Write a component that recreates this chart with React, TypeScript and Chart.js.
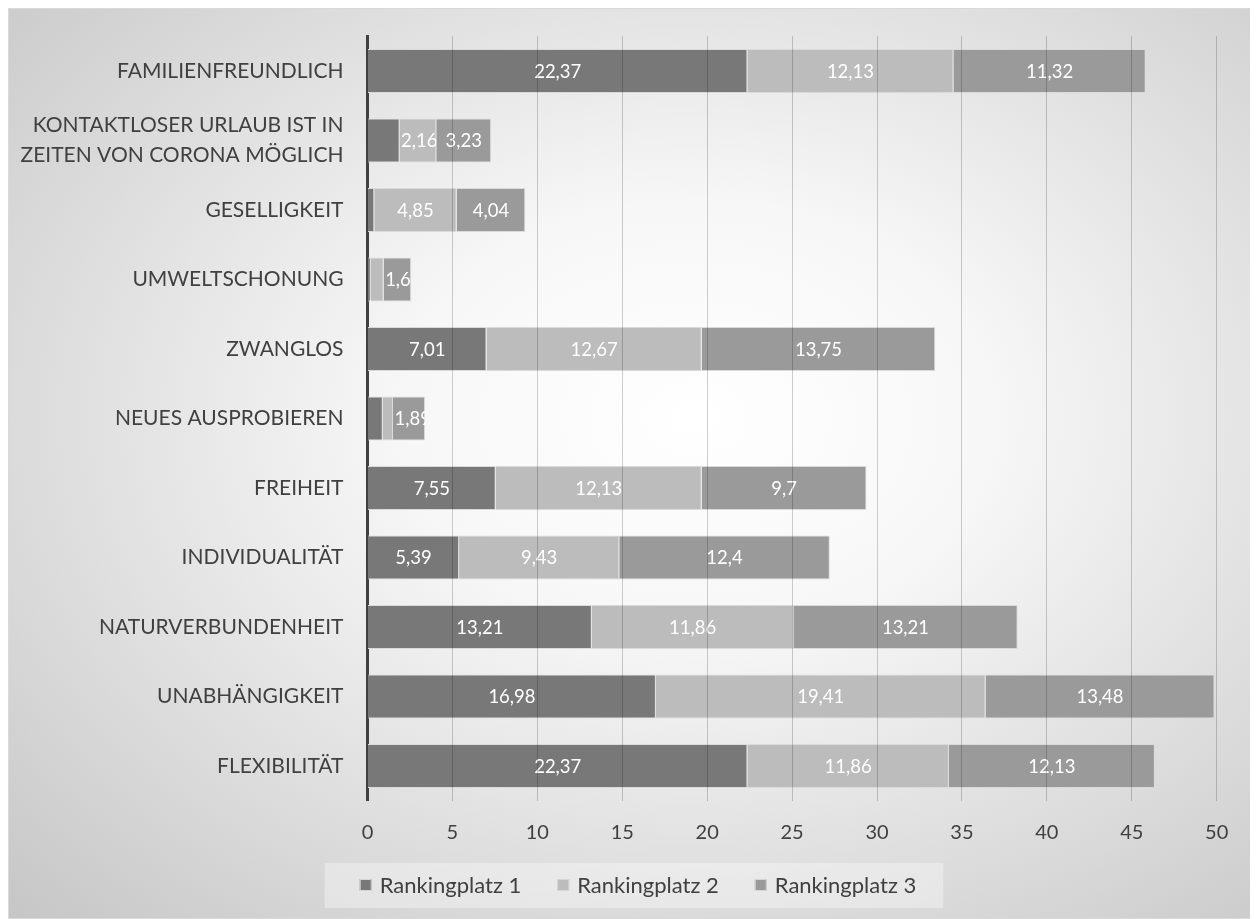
import React, { useEffect, useRef } from "react";
import { Chart, registerables } from "chart.js";

Chart.register(...registerables);

const categories: (string | string[])[] = [
  "FAMILIENFREUNDLICH",
  ["KONTAKTLOSER URLAUB IST IN", "ZEITEN VON CORONA MÖGLICH"],
  "GESELLIGKEIT",
  "UMWELTSCHONUNG",
  "ZWANGLOS",
  "NEUES AUSPROBIEREN",
  "FREIHEIT",
  "INDIVIDUALITÄT",
  "NATURVERBUNDENHEIT",
  "UNABHÄNGIGKEIT",
  "FLEXIBILITÄT",
];

const seriesNames = ["Rankingplatz 1", "Rankingplatz 2", "Rankingplatz 3"];
const seriesColors = ["#787878", "#bcbcbc", "#9a9a9a"];

const rank1 = [22.37, 1.89, 0.4, 0.2, 7.01, 0.9, 7.55, 5.39, 13.21, 16.98, 22.37];
const rank2 = [12.13, 2.16, 4.85, 0.75, 12.67, 0.6, 12.13, 9.43, 11.86, 19.41, 11.86];
const rank3 = [11.32, 3.23, 4.04, 1.62, 13.75, 1.89, 9.7, 12.4, 13.21, 13.48, 12.13];

const xTicks = [0, 5, 10, 15, 20, 25, 30, 35, 40, 45, 50];

const FONT = "Lato, 'Noto Sans', sans-serif";
const TEXT = "#404040";

const labelPlugin = {
  id: "segLabels",
  afterDatasetsDraw(chart: any) {
    const ctx = chart.ctx;
    chart.data.datasets.forEach((ds: any, di: number) => {
      const meta = chart.getDatasetMeta(di);
      meta.data.forEach((el: any, i: number) => {
        const v = ds.data[i] as number;
        if (v < 1) return;
        if (di === 0 && v < 2) return;
        const left = Math.min(el.x, el.base);
        const right = Math.max(el.x, el.base);
        const h = el.height;
        const txt = String(v).replace(".", ",");
        ctx.save();
        ctx.beginPath();
        ctx.rect(left, el.y - h / 2, right - left, h);
        ctx.clip();
        ctx.fillStyle = "#ffffff";
        ctx.font = `18.5px ${FONT}`;
        const w = ctx.measureText(txt).width;
        const tx = Math.max(left + 1.5, (left + right) / 2 - w / 2);
        ctx.textAlign = "left";
        ctx.textBaseline = "middle";
        ctx.fillText(txt, tx, el.y + 1);
        ctx.restore();
      });
    });
  },
};

const legendPlugin = {
  id: "customLegend",
  afterDraw(chart: any) {
    const ctx = chart.ctx;
    ctx.save();
    ctx.font = `22px ${FONT}`;
    const box = 12;
    const gap = 8;
    const spacing = 36;
    const widths = seriesNames.map((n) => box + gap + ctx.measureText(n).width);
    const total = widths.reduce((a, b) => a + b, 0) + spacing * (widths.length - 1);
    const cy = 876;
    let x = chart.width / 2 + 5 - total / 2;
    const startX = x;
    ctx.fillStyle = "rgba(255,255,255,0.35)";
    ctx.fillRect(startX - 35, cy - 22, total + 35 + 27, 45);
    ctx.textBaseline = "middle";
    ctx.textAlign = "left";
    seriesNames.forEach((n, i) => {
      ctx.fillStyle = seriesColors[i];
      ctx.fillRect(x, cy - box / 2, box, box);
      ctx.strokeStyle = "#d6d6d6";
      ctx.lineWidth = 1;
      ctx.strokeRect(x + 0.5, cy - box / 2 + 0.5, box - 1, box - 1);
      ctx.fillStyle = TEXT;
      ctx.fillText(n, x + box + gap, cy + 1);
      x += widths[i] + spacing;
    });
    ctx.restore();
  },
};

export default function App() {
  const ref = useRef<HTMLCanvasElement | null>(null);

  useEffect(() => {
    if (!ref.current) return;
    const chart = new Chart(ref.current, {
      type: "bar",
      data: {
        labels: categories,
        datasets: [rank1, rank2, rank3].map((d, i) => ({
          label: seriesNames[i],
          data: d,
          backgroundColor: seriesColors[i],
          borderColor: "#dadada",
          borderWidth: 1,
        })),
      },
      options: {
        indexAxis: "y",
        animation: false,
        responsive: true,
        maintainAspectRatio: false,
        datasets: {
          bar: { categoryPercentage: 1, barPercentage: 0.635 },
        },
        layout: { padding: { left: 0, right: 40.3, top: 27.25, bottom: 0 } },
        scales: {
          x: {
            stacked: true,
            min: 0,
            max: 50,
            afterBuildTicks(scale: any) {
              scale.ticks = xTicks.map((v) => ({ value: v }));
            },
            afterFit(scale: any) {
              scale.height = 117.25;
              scale.paddingLeft = 0;
              scale.paddingRight = 0;
            },
            grid: {
              z: 1,
              drawTicks: false,
              color: (c: any) => (c.index === 0 ? "rgba(0,0,0,0)" : "rgba(0,0,0,0.19)"),
              lineWidth: 1,
            },
            border: { display: false },
            ticks: {
              padding: 20,
              color: TEXT,
              font: { family: FONT, size: 20 },
            },
          },
          y: {
            stacked: true,
            afterFit(scale: any) {
              scale.width = 358.5;
              scale.paddingTop = 0;
              scale.paddingBottom = 0;
            },
            grid: { display: false, drawTicks: false },
            border: { display: true, color: "#404040", width: 3 },
            ticks: {
              padding: 24,
              color: TEXT,
              font: { family: FONT, size: 21, lineHeight: 1.43 },
            },
          },
        },
        plugins: {
          legend: { display: false },
          tooltip: { enabled: false },
        },
      },
      plugins: [labelPlugin, legendPlugin],
    });
    return () => chart.destroy();
  }, []);

  return (
    <div
      style={{
        width: 1250,
        height: 911,
        position: "relative",
        boxSizing: "border-box",
        border: "1px solid #d9d9d9",
        background:
          "radial-gradient(ellipse farthest-corner at 55% 45%, #ffffff 0%, #f7f7f7 30%, #c6c6c6 100%)",
      }}
    >
      <canvas ref={ref} />
    </div>
  );
}
